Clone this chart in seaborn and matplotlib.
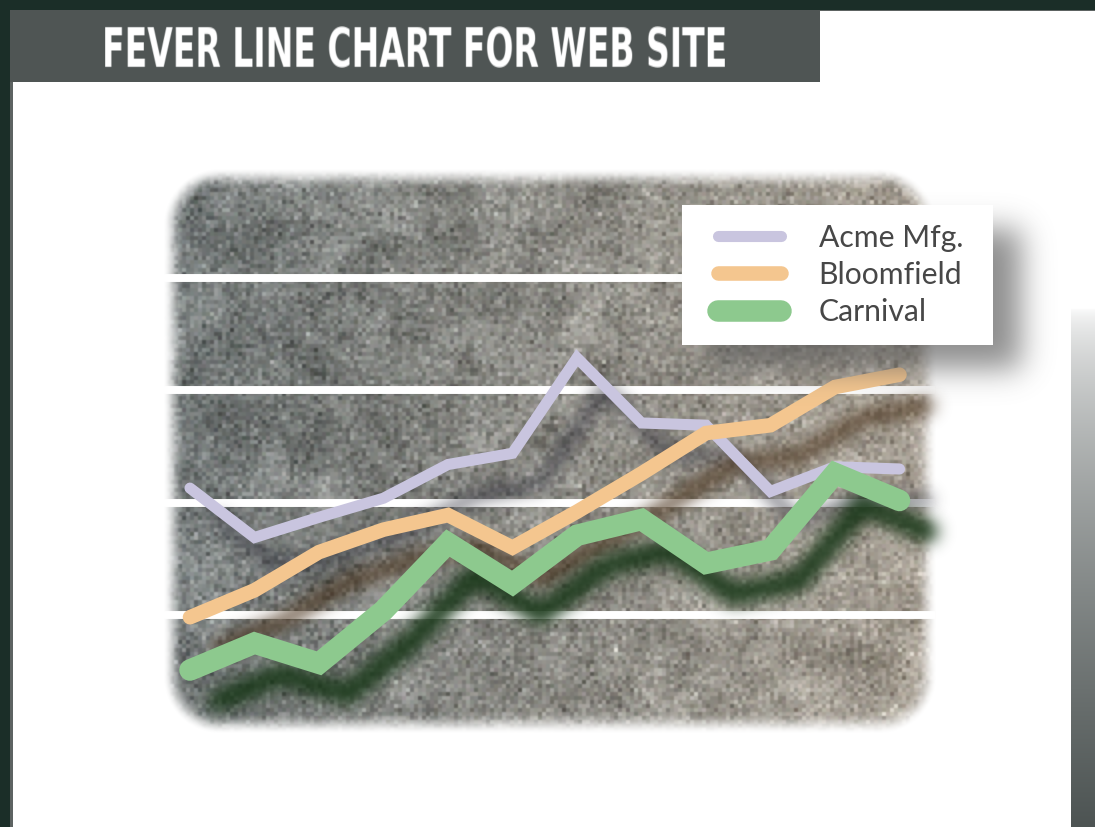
import numpy as np
import pandas as pd
import matplotlib
matplotlib.use("Agg")
import matplotlib.pyplot as plt
from matplotlib.patches import Rectangle
import seaborn as sns

# ---- data -------------------------------------------------------------
periods = list(range(1, 13))
acme = [21.3, 16.9, 18.7, 20.4, 23.4, 24.4, 32.9, 27.1, 26.9, 21.0, 23.2, 23.0]
bloomfield = [9.8, 12.2, 15.6, 17.6, 18.9, 16.0, 19.2, 22.6, 26.2, 26.9, 30.3, 31.4]
carnival = [5.1, 7.5, 5.7, 10.4, 16.4, 12.8, 17.1, 18.5, 14.6, 15.8, 22.6, 20.2]
companies = ["Acme Mfg.", "Bloomfield", "Carnival"]
grid_values = [10, 20, 30, 40]
title = "FEVER LINE CHART FOR WEB SITE"

df = pd.DataFrame({
    "period": periods * 3,
    "value": acme + bloomfield + carnival,
    "company": [c for c in companies for _ in periods],
})

# ---- styles -----------------------------------------------------------
line_colors = {"Acme Mfg.": "#c9c5df", "Bloomfield": "#f4c68f", "Carnival": "#8dc98e"}
line_widths = {"Acme Mfg.": 8, "Bloomfield": 10.5, "Carnival": 15.5}
shadow_colors = {"Acme Mfg.": (0.20, 0.20, 0.25), "Bloomfield": (0.30, 0.21, 0.12),
                 "Carnival": (0.10, 0.22, 0.10)}
shadow_strength = {"Acme Mfg.": 0.75, "Bloomfield": 0.85, "Carnival": 1.0}

W, H = 1095, 827
sns.set_style("white")
plt.rcParams["font.family"] = ["Lato", "DejaVu Sans"]


def gauss_blur(a, sigma, mode="constant"):
    r = max(1, int(round(3 * sigma)))
    k = np.exp(-0.5 * (np.arange(-r, r + 1) / sigma) ** 2)
    k /= k.sum()
    h, w = a.shape
    p = np.pad(a, ((r, r), (0, 0)), mode=mode)
    a = sum(k[i] * p[i:i + h] for i in range(2 * r + 1))
    p = np.pad(a, ((0, 0), (r, r)), mode=mode)
    return sum(k[i] * p[:, i:i + w] for i in range(2 * r + 1))


class ShadowFilter:
    """Blurred, offset silhouette of an artist (pixel units)."""

    def __init__(self, dx, dy, sigma, color, strength):
        self.dx, self.dy, self.sigma = dx, dy, sigma
        self.color, self.strength = color, strength

    def __call__(self, im, dpi):
        pad = int(3 * self.sigma) + 2
        a = np.pad(im[..., 3], pad)
        a = np.clip(gauss_blur(a, self.sigma) * self.strength, 0, 1)
        out = np.zeros(a.shape + (4,))
        out[..., :3] = self.color
        out[..., 3] = a
        return out, -pad + self.dx, -pad - self.dy


def resample_axis(pm, n_out, axis, ss=4):
    """Area-ish resampling of a premultiplied image along one axis."""
    n_in = pm.shape[axis]
    f = n_out / n_in
    acc = 0
    for k in range(ss):
        pos = (np.arange(n_out) + (k + 0.5) / ss) / f - 0.5
        p0 = np.floor(pos).astype(int)
        t = pos - p0
        i0 = np.clip(p0, 0, n_in - 1)
        i1 = np.clip(p0 + 1, 0, n_in - 1)
        a0 = np.take(pm, i0, axis=axis)
        a1 = np.take(pm, i1, axis=axis)
        shape = [1] * pm.ndim
        shape[axis] = n_out
        t = t.reshape(shape)
        acc = acc + a0 * (1 - t) + a1 * t
    return acc / ss


class FitFilter:
    """Resample an artist's ink to a fixed pixel box, keeping its lower-left corner."""

    def __init__(self, width, height):
        self.width, self.height = width, height

    def __call__(self, im, dpi):
        pm = im.copy()
        pm[..., :3] *= pm[..., 3:4]
        pm = resample_axis(pm, self.width, 1)
        pm = resample_axis(pm, self.height, 0)
        a = pm[..., 3:4]
        out = np.zeros_like(pm)
        out[..., :3] = pm[..., :3] / np.maximum(a, 1e-6)
        out[..., 3:4] = a
        return np.clip(out, 0, 1), 0, 0


fig = plt.figure(figsize=(W / 100, H / 100), dpi=100, facecolor="#1b2e28")

# ---- page decoration (pixel coordinates, y downwards) -----------------
bg = fig.add_axes([0, 0, 1, 1])
bg.axis("off")
bg.add_patch(Rectangle((10, 10), W, H, color="#5d6362", lw=0, zorder=0))
bg.add_patch(Rectangle((13, 11), W, H, color="white", lw=0, zorder=0))
bg.add_patch(Rectangle((10, 10), 810, 72, color="#4f5554", lw=0, zorder=2))

# mottled panel behind the plot
rng = np.random.default_rng(11)
nx0, ny0, cell = 150, 160, 4
ncx, ncy = 200, 146
cells = rng.normal(0, 16, (ncy, ncx))
blotch = gauss_blur(rng.normal(0, 1, (ncy, ncx)), 3, mode="wrap")
cells += 8 * blotch / blotch.std()
chroma = rng.normal(0, 1.5, (ncy, ncx, 3))
tex = np.repeat(np.repeat(cells, cell, 0), cell, 1)
chroma = np.repeat(np.repeat(chroma, cell, 0), cell, 1)
pw, ph = ncx * cell, ncy * cell
xs = np.arange(pw) + nx0 + 0.5
ys = np.arange(ph) + ny0 + 0.5
tx = (xs - nx0) / pw
left_c = np.array([112, 118, 118.0])
right_c = np.array([170, 162, 150.0])
base = left_c[None, None, :] * (1 - tx)[None, :, None] + right_c[None, None, :] * tx[None, :, None]
rgb = base + tex[..., None] + chroma
for c in range(3):
    rgb[..., c] = gauss_blur(rgb[..., c], 0.75, mode="edge")
X, Y = np.meshgrid(xs, ys)
rx0, rx1, ry0, ry1, rad, feather = 185, 915, 190, 712, 35, 22
cx, cy = (rx0 + rx1) / 2, (ry0 + ry1) / 2
qx = np.abs(X - cx) - ((rx1 - rx0) / 2 - rad)
qy = np.abs(Y - cy) - ((ry1 - ry0) / 2 - rad)
d = np.hypot(np.maximum(qx, 0), np.maximum(qy, 0)) + np.minimum(np.maximum(qx, qy), 0) - rad
alpha = np.clip(1 - d / feather, 0, 1)
alpha = alpha * alpha * (3 - 2 * alpha)
panel = np.dstack([np.clip(rgb / 255, 0, 1), alpha])
bg.imshow(panel, extent=(nx0, nx0 + pw, ny0 + ph, ny0), interpolation="nearest",
          zorder=1, aspect="auto")

# gradient strip on the right edge
gy0 = 308
t = np.linspace(0, 1, H - gy0)[:, None, None] ** 0.6
dark = np.array([77, 84, 83.0]) / 255
strip = (1 - t) * np.ones(3) + t * dark
strip = np.repeat(strip, 4, axis=1)
bg.imshow(strip, extent=(1071, W, H, gy0), interpolation="bilinear", zorder=1, aspect="auto")
bg.set_xlim(0, W)
bg.set_ylim(H, 0)

# title: bold face compressed into the condensed banner lettering
ttl = bg.text(101, 67, title, color="white", fontsize=33, fontweight="bold",
              family="DejaVu Sans", ha="left", va="baseline", zorder=3)
ttl.set_agg_filter(FitFilter(620, 42))

# ---- chart ------------------------------------------------------------
x_px0, x_step = 190, 64.5
ax_left, ax_right = 163, 935
y_zero_px, px_per_unit = 727.3, 11.23
y_top = 50
ax = fig.add_axes([ax_left / W, 1 - y_zero_px / H, (ax_right - ax_left) / W,
                   y_top * px_per_unit / H])
ax.patch.set_alpha(0)

for name in companies:
    sub = df[df["company"] == name]
    sns.lineplot(data=sub, x="period", y="value", color=line_colors[name],
                 linewidth=line_widths[name], ax=ax, legend=False, zorder=1.5,
                 solid_capstyle="round", solid_joinstyle="miter")
    ax.lines[-1].set_agg_filter(ShadowFilter(28, 31, 8, shadow_colors[name],
                                             shadow_strength[name]))

for name in companies:
    sub = df[df["company"] == name]
    sns.lineplot(data=sub, x="period", y="value", color=line_colors[name],
                 linewidth=line_widths[name], ax=ax, label=name, zorder=3,
                 solid_capstyle="round", solid_joinstyle="miter")

ax.set_xlim(periods[0] - (x_px0 - ax_left) / x_step, periods[0] + (ax_right - x_px0) / x_step)
ax.set_ylim(0, y_top)
ax.set_yticks(grid_values)
ax.set_axisbelow(True)
ax.yaxis.grid(True, color="white", linewidth=5.7)
ax.xaxis.grid(False)
ax.tick_params(left=False, bottom=False, labelleft=False, labelbottom=False)
ax.set_xlabel("")
ax.set_ylabel("")
for s in ax.spines.values():
    s.set_visible(False)

# legend card with a soft drop shadow
box_x, box_y, box_w, box_h = 682, 205, 311, 140
card_shadow = Rectangle((box_x + 28, box_y + 24), box_w, box_h, transform=bg.transData,
                        facecolor="#555555", lw=0, zorder=4.5, clip_on=False)
card_shadow.set_agg_filter(ShadowFilter(0, 0, 15, (0.35, 0.35, 0.35), 0.68))
ax.add_patch(card_shadow)
ax.add_patch(Rectangle((box_x, box_y), box_w, box_h, transform=bg.transData,
                       facecolor="white", lw=0, zorder=4.6, clip_on=False))

handles, labels = ax.get_legend_handles_labels()
leg = ax.legend(handles, labels, loc="upper left",
                bbox_to_anchor=(718 / W, 1 - 224 / H),
                bbox_transform=fig.transFigure, frameon=False,
                prop={"family": "Lato", "size": 21.7}, labelcolor="#474747",
                handlelength=2.09, handletextpad=1.25, borderpad=0,
                labelspacing=0.3, borderaxespad=0)
leg.set_zorder(5)

fig.savefig("out.png", dpi=100, facecolor=fig.get_facecolor())
